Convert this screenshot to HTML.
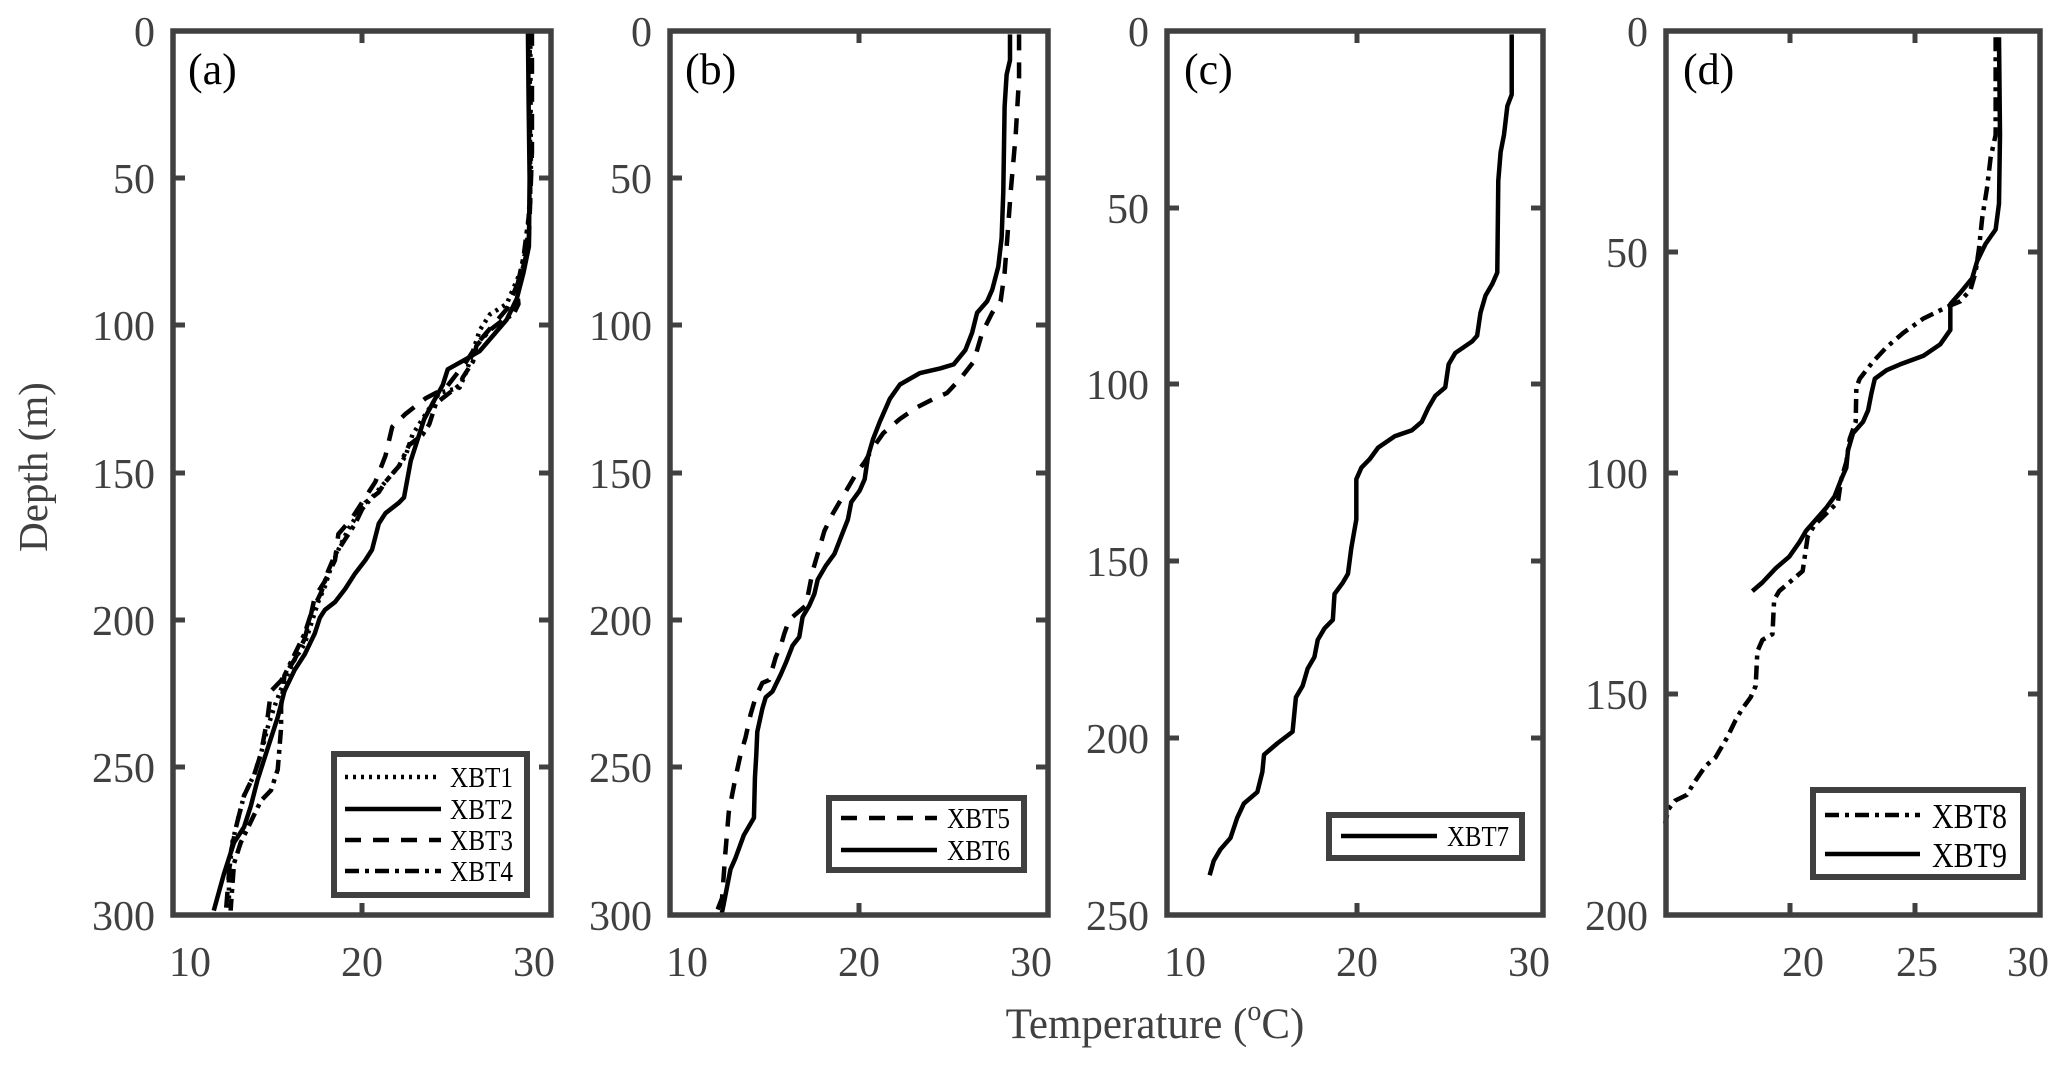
<!DOCTYPE html>
<html><head><meta charset="utf-8"><style>
html,body{margin:0;padding:0;background:#fff;}
svg{display:block;}
text{font-family:"Liberation Serif",serif;fill:#404040;}
.ax{fill:none;stroke:#404040;stroke-width:5.5;}
.tk{stroke:#404040;stroke-width:5;}
.ln{fill:none;stroke:#000;stroke-width:4.5;stroke-linejoin:round;vector-effect:non-scaling-stroke;}
.lg{fill:#fff;stroke:#404040;stroke-width:6;}
.lt{fill:#000;font-size:29px;}
.tl{font-size:42px;}
</style></head><body>
<svg width="2067" height="1069" viewBox="0 0 2067 1069" xmlns="http://www.w3.org/2000/svg">
<rect width="2067" height="1069" fill="#fff"/>

<!-- ===== Panel a ===== -->
<g transform="translate(170,100) scale(0.3367,0.523)">
<path class="ln" style="stroke-dasharray:3,5" d="M1070,-134 L1072,150 1060,280 1040,330 1000,390 950,410 920,440 900,480 880,520 860,550 800,560 760,600 720,640 700,680 680,700 640,730 600,760 560,790 530,820 500,860 480,890 460,930 440,960 420,1000 400,1040 370,1070 340,1110 310,1160 290,1200 270,1250 250,1290 220,1330 200,1380 185,1420 175,1480 175,1550"/>
<path class="ln" style="stroke-dasharray:16,12" d="M1075,-134 L1075,100 1065,280 1040,340 1000,400 960,430 920,460 880,500 820,550 760,570 700,600 660,625 640,680 610,730 570,770 540,800 500,830 490,880 460,920 430,950 420,980 400,1030 370,1070 330,1110 300,1130 290,1180 270,1250 250,1290 220,1330 200,1380 180,1440 165,1560"/>
<path class="ln" style="stroke-dasharray:14,6,4,6" d="M1068,-134 L1070,200 1050,300 1030,360 1035,390 1020,410 990,420 950,440 910,470 900,500 870,530 860,545 830,560 790,580 770,620 750,640 710,660 680,700 640,730 620,750 580,770 550,810 520,840 490,870 470,900 450,940 420,980 400,1020 370,1060 340,1100 330,1160 330,1200 320,1280 300,1320 270,1340 240,1380 210,1420 190,1460 180,1550"/>
<path class="ln" d="M1063,-134 L1065,0 1068,150 1066,280 1050,330 1030,380 1000,420 960,450 920,480 880,495 825,515 810,545 780,580 755,610 735,650 715,690 695,760 680,770 640,790 620,810 600,860 580,880 550,905 520,935 490,960 460,975 445,990 430,1020 400,1060 370,1090 340,1130 320,1180 300,1220 280,1260 260,1300 240,1350 220,1390 190,1420 160,1480 130,1550"/>
</g>
<rect class="ax" x="173" y="31" width="378" height="884"/>
<g class="tk">
<line x1="173" y1="178" x2="185" y2="178"/><line x1="551" y1="178" x2="539" y2="178"/>
<line x1="173" y1="325" x2="185" y2="325"/><line x1="551" y1="325" x2="539" y2="325"/>
<line x1="173" y1="473" x2="185" y2="473"/><line x1="551" y1="473" x2="539" y2="473"/>
<line x1="173" y1="620" x2="185" y2="620"/><line x1="551" y1="620" x2="539" y2="620"/>
<line x1="173" y1="767" x2="185" y2="767"/><line x1="551" y1="767" x2="539" y2="767"/>
<line x1="362" y1="31" x2="362" y2="43"/><line x1="362" y1="915" x2="362" y2="903"/>
</g>
<g class="tl" text-anchor="end">
<text x="155" y="46">0</text><text x="155" y="193">50</text><text x="155" y="340">100</text><text x="155" y="488">150</text><text x="155" y="635">200</text><text x="155" y="782">250</text><text x="155" y="930">300</text>
</g>
<g class="tl" text-anchor="middle"><text x="190" y="976">10</text><text x="362" y="976">20</text><text x="534" y="976">30</text></g>
<text x="188" y="84" style="font-size:44px;fill:#000">(a)</text>
<rect class="lg" x="334" y="754" width="193" height="141"/>
<line x1="345" y1="777" x2="441" y2="777" class="ln" style="stroke-dasharray:3,5"/>
<line x1="345" y1="809" x2="441" y2="809" class="ln"/>
<line x1="345" y1="840" x2="441" y2="840" class="ln" style="stroke-dasharray:16,12"/>
<line x1="345" y1="871" x2="441" y2="871" class="ln" style="stroke-dasharray:14,6,4,6"/>
<text class="lt" x="450" y="787" textLength="63" lengthAdjust="spacingAndGlyphs">XBT1</text>
<text class="lt" x="450" y="819" textLength="63" lengthAdjust="spacingAndGlyphs">XBT2</text>
<text class="lt" x="450" y="850" textLength="63" lengthAdjust="spacingAndGlyphs">XBT3</text>
<text class="lt" x="450" y="881" textLength="63" lengthAdjust="spacingAndGlyphs">XBT4</text>

<!-- ===== Panel b ===== -->
<g transform="translate(665,20) scale(0.3356,0.574)">
<path class="ln" style="stroke-dasharray:16,12" d="M1055,25 L1055,100 1045,200 1030,300 1020,380 1012,440 1000,490 975,510 945,545 920,595 880,625 840,650 800,660 750,675 700,695 650,720 620,745 595,770 570,790 545,815 520,840 500,860 475,890 455,930 440,960 430,990 420,1020 400,1030 370,1045 355,1070 345,1090 330,1110 310,1150 290,1155 270,1180 255,1210 240,1250 225,1280 210,1320 200,1350 190,1380 180,1450 170,1530 150,1560"/>
<path class="ln" d="M1028,25 L1028,70 1018,95 1012,150 1008,300 1003,380 993,430 975,470 960,490 930,510 915,545 895,575 860,600 820,607 760,615 700,635 670,660 640,700 620,730 605,760 595,800 580,820 555,840 545,870 525,900 505,930 480,950 455,975 445,1000 430,1020 410,1040 400,1075 380,1090 360,1120 345,1140 320,1170 300,1180 290,1200 275,1240 272,1280 268,1320 265,1390 235,1420 210,1460 195,1480 185,1510 175,1540 168,1560"/>
</g>
<rect class="ax" x="670" y="31" width="378" height="884"/>
<g class="tk">
<line x1="670" y1="178" x2="682" y2="178"/><line x1="1048" y1="178" x2="1036" y2="178"/>
<line x1="670" y1="325" x2="682" y2="325"/><line x1="1048" y1="325" x2="1036" y2="325"/>
<line x1="670" y1="473" x2="682" y2="473"/><line x1="1048" y1="473" x2="1036" y2="473"/>
<line x1="670" y1="620" x2="682" y2="620"/><line x1="1048" y1="620" x2="1036" y2="620"/>
<line x1="670" y1="767" x2="682" y2="767"/><line x1="1048" y1="767" x2="1036" y2="767"/>
<line x1="859" y1="31" x2="859" y2="43"/><line x1="859" y1="915" x2="859" y2="903"/>
</g>
<g class="tl" text-anchor="end">
<text x="652" y="46">0</text><text x="652" y="193">50</text><text x="652" y="340">100</text><text x="652" y="488">150</text><text x="652" y="635">200</text><text x="652" y="782">250</text><text x="652" y="930">300</text>
</g>
<g class="tl" text-anchor="middle"><text x="687" y="976">10</text><text x="859" y="976">20</text><text x="1031" y="976">30</text></g>
<text x="685" y="84" style="font-size:44px;fill:#000">(b)</text>
<rect class="lg" x="829" y="798" width="195" height="72"/>
<line x1="841" y1="818" x2="937" y2="818" class="ln" style="stroke-dasharray:16,12"/>
<line x1="841" y1="850" x2="937" y2="850" class="ln"/>
<text class="lt" x="947" y="828" textLength="63" lengthAdjust="spacingAndGlyphs">XBT5</text>
<text class="lt" x="947" y="860" textLength="63" lengthAdjust="spacingAndGlyphs">XBT6</text>

<!-- ===== Panel c ===== -->
<g transform="translate(1160,20) scale(0.3356,0.574)">
<path class="ln" d="M1048,25 L1048,130 1035,150 1025,200 1015,230 1008,280 1005,440 990,460 970,480 955,510 945,550 930,560 880,580 860,600 850,640 820,655 800,675 780,700 750,715 700,725 650,745 625,765 600,780 585,800 585,870 570,920 560,965 545,980 520,1000 515,1045 490,1060 470,1080 460,1110 440,1130 425,1160 405,1180 395,1240 350,1260 310,1280 305,1310 290,1345 250,1365 230,1390 210,1425 180,1445 160,1465 148,1490"/>
</g>
<rect class="ax" x="1167" y="31" width="376" height="884"/>
<g class="tk">
<line x1="1167" y1="208" x2="1179" y2="208"/><line x1="1543" y1="208" x2="1531" y2="208"/>
<line x1="1167" y1="384" x2="1179" y2="384"/><line x1="1543" y1="384" x2="1531" y2="384"/>
<line x1="1167" y1="561" x2="1179" y2="561"/><line x1="1543" y1="561" x2="1531" y2="561"/>
<line x1="1167" y1="738" x2="1179" y2="738"/><line x1="1543" y1="738" x2="1531" y2="738"/>
<line x1="1357" y1="31" x2="1357" y2="43"/><line x1="1357" y1="915" x2="1357" y2="903"/>
</g>
<g class="tl" text-anchor="end">
<text x="1149" y="46">0</text><text x="1149" y="223">50</text><text x="1149" y="399">100</text><text x="1149" y="576">150</text><text x="1149" y="753">200</text><text x="1149" y="930">250</text>
</g>
<g class="tl" text-anchor="middle"><text x="1185" y="976">10</text><text x="1357" y="976">20</text><text x="1529" y="976">30</text></g>
<text x="1184" y="84" style="font-size:44px;fill:#000">(c)</text>
<rect class="lg" x="1329" y="815" width="193" height="43"/>
<line x1="1341" y1="836" x2="1437" y2="836" class="ln"/>
<text class="lt" x="1447" y="846" textLength="62" lengthAdjust="spacingAndGlyphs">XBT7</text>

<!-- ===== Panel d ===== -->
<g transform="translate(1655,20) scale(0.3356,0.574)">
<path class="ln" style="stroke-dasharray:14,6,4,6" d="M1015,30 L1015,200 1000,240 990,290 975,345 965,400 955,440 940,470 910,490 870,500 800,520 740,545 690,570 650,595 610,625 600,640 598,700 580,730 570,770 555,800 545,840 510,860 475,880 455,900 440,960 410,975 370,995 355,1010 350,1070 320,1080 305,1100 300,1160 285,1180 260,1200 240,1220 215,1250 180,1285 150,1300 115,1330 95,1350 60,1360 40,1375 30,1400"/>
<path class="ln" d="M1025,30 L1028,200 1025,320 1015,365 985,390 960,420 945,450 910,475 880,495 880,540 850,565 800,585 730,600 690,610 655,625 645,650 635,680 620,700 590,720 575,750 570,780 555,800 535,830 510,850 480,870 450,890 430,910 400,935 360,955 320,980 290,995"/>
</g>
<rect class="ax" x="1666" y="31" width="374" height="884"/>
<g class="tk">
<line x1="1666" y1="252" x2="1678" y2="252"/><line x1="2040" y1="252" x2="2028" y2="252"/>
<line x1="1666" y1="473" x2="1678" y2="473"/><line x1="2040" y1="473" x2="2028" y2="473"/>
<line x1="1666" y1="694" x2="1678" y2="694"/><line x1="2040" y1="694" x2="2028" y2="694"/>
<line x1="1790" y1="31" x2="1790" y2="43"/><line x1="1790" y1="915" x2="1790" y2="903"/>
<line x1="1915" y1="31" x2="1915" y2="43"/><line x1="1915" y1="915" x2="1915" y2="903"/>
</g>
<g class="tl" text-anchor="end">
<text x="1648" y="46">0</text><text x="1648" y="267">50</text><text x="1648" y="488">100</text><text x="1648" y="709">150</text><text x="1648" y="930">200</text>
</g>
<g class="tl" text-anchor="middle"><text x="1803" y="976">20</text><text x="1917" y="976">25</text><text x="2028" y="976">30</text></g>
<text x="1683" y="84" style="font-size:44px;fill:#000">(d)</text>
<rect class="lg" x="1813" y="790" width="210" height="87"/>
<line x1="1825" y1="815" x2="1920" y2="815" class="ln" style="stroke-dasharray:14,6,4,6"/>
<line x1="1825" y1="854" x2="1920" y2="854" class="ln"/>
<text class="lt" x="1932" y="828" style="font-size:35px" textLength="75" lengthAdjust="spacingAndGlyphs">XBT8</text>
<text class="lt" x="1932" y="867" style="font-size:35px" textLength="75" lengthAdjust="spacingAndGlyphs">XBT9</text>

<!-- axis labels -->
<text transform="translate(47,467) rotate(-90)" text-anchor="middle" style="font-size:41px">Depth (m)</text>
<text x="1155" y="1038" text-anchor="middle" style="font-size:43px">Temperature (<tspan dy="-18" style="font-size:28px">o</tspan><tspan dy="18">C)</tspan></text>
</svg>
</body></html>
